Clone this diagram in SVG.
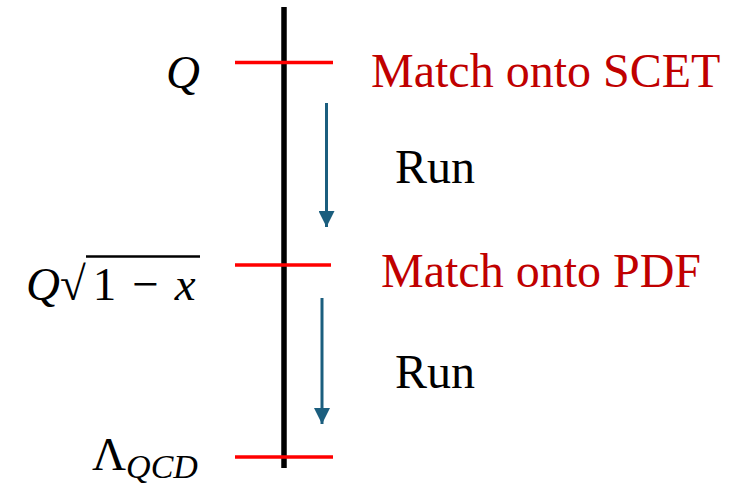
<svg xmlns="http://www.w3.org/2000/svg" width="749" height="485" viewBox="0 0 749 485">
<style>
.lbl{font-family:"Liberation Serif","Times New Roman",serif;font-size:48px}
.red{fill:#C00000}
.blk{fill:#000}
.math{font-family:"Liberation Serif","DejaVu Serif",serif;font-size:47px;fill:#000}
.it{font-style:italic}
.tick{stroke:#FF0000;stroke-width:3.5}
.arr{stroke:#1B5E7E;stroke-width:3;fill:none}
</style>
<defs>
<marker id="ah" markerUnits="userSpaceOnUse" markerWidth="16" markerHeight="16" refX="16" refY="8" orient="auto">
<path d="M0,0 L16,8 L0,16 Z" fill="#1B5E7E"/>
</marker>
</defs>
<rect width="749" height="485" fill="#fff"/>
<g id="axis">
<line x1="284" y1="7" x2="284" y2="468" stroke="#000" stroke-width="5.5"/>
</g>
<g id="scale-Q">
<line class="tick" x1="235" y1="62.5" x2="333" y2="62.5"/>
<text class="math it" x="166" y="88">Q</text>
</g>
<g id="scale-Qsqrt">
<line class="tick" x1="235" y1="265" x2="331" y2="265"/>
<text class="math" x="26" y="300"><tspan class="it">Q</tspan><tspan>√</tspan><tspan dx="7">1</tspan><tspan dx="16">−</tspan><tspan dx="16" class="it">x</tspan></text>
<line x1="86" y1="256.5" x2="200" y2="256.5" stroke="#000" stroke-width="2.5"/>
</g>
<g id="scale-Lambda">
<line class="tick" x1="235" y1="457" x2="333" y2="457"/>
<text class="math" x="92" y="470">Λ<tspan class="it" font-size="34" dy="8">QCD</tspan></text>
</g>
<g id="match-scet"><text class="lbl red" x="371" y="87">Match onto SCET</text></g>
<g id="run1"><text class="lbl blk" x="395" y="183">Run</text></g>
<g id="match-pdf"><text class="lbl red" x="381" y="287">Match onto PDF</text></g>
<g id="run2"><text class="lbl blk" x="395" y="388">Run</text></g>
<g id="connectors">
<line class="arr" x1="326.5" y1="103" x2="326.5" y2="227" marker-end="url(#ah)"/>
<line class="arr" x1="322" y1="298" x2="322" y2="424" marker-end="url(#ah)"/>
</g>
</svg>
